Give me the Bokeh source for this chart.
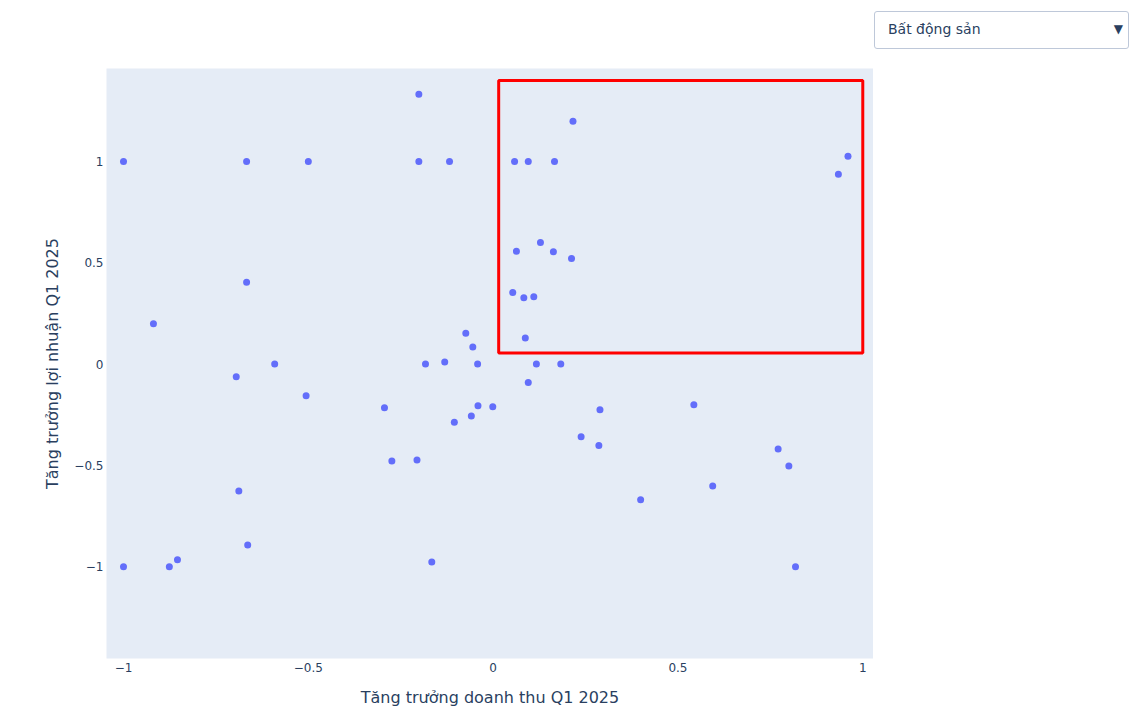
from bokeh.plotting import figure
from bokeh.models import Range1d, FixedTicker, CustomJSTickFormatter, Div
from bokeh.layouts import row
from bokeh.embed import file_html
from bokeh.resources import INLINE

# ---- data ----
revenue_growth = [
    -1.0, -0.667, -0.500, -0.201, -0.201, -0.118, 0.058, 0.095, 0.166, 0.216,
    0.960, 0.934, 0.128, 0.063, 0.163, 0.212, -0.667, 0.053, 0.083, 0.110,
    0.087, -0.919, -0.074, -0.055, -0.131, -0.183, -0.042, 0.117, 0.183, -0.591,
    -0.695, 0.095, -0.506, -0.294, -0.041, -0.001, -0.105, -0.059, 0.289, 0.543,
    0.238, 0.286, -0.274, -0.206, 0.771, 0.800, -0.688, 0.399, 0.594, -0.664,
    -1.0, -0.876, -0.854, -0.166, 0.818,
]
profit_growth = [
    1.0, 1.0, 1.0, 1.332, 1.0, 1.0, 1.0, 1.0, 1.0, 1.199,
    1.026, 0.937, 0.600, 0.557, 0.554, 0.521, 0.404, 0.353, 0.327, 0.332,
    0.129, 0.199, 0.152, 0.085, 0.011, 0.0, 0.0, 0.0, 0.0, 0.0,
    -0.063, -0.091, -0.156, -0.216, -0.205, -0.210, -0.287, -0.256, -0.225, -0.201,
    -0.358, -0.402, -0.478, -0.473, -0.419, -0.503, -0.626, -0.669, -0.601, -0.893,
    -1.0, -1.0, -0.965, -0.977, -1.0,
]
x_ticks = [-1, -0.5, 0, 0.5, 1]
y_ticks = [-1, -0.5, 0, 0.5, 1]
x_title = "Tăng trưởng doanh thu Q1 2025"
y_title = "Tăng trưởng lợi nhuận Q1 2025"
sector_options = ["Bất động sản"]
highlight_x = [0.015, 1.0]
highlight_y = [0.055, 1.4]

FONT = "DejaVu Sans"
TXT = "#2a3f5f"

p = figure(
    width=873, height=712,
    x_range=Range1d(-1.046, 1.029), y_range=Range1d(-1.453, 1.459),
    output_backend="svg", toolbar_location=None,
    min_border_left=106, min_border_right=0, min_border_top=68, min_border_bottom=54,
    background_fill_color="#E5ECF6", border_fill_color="white",
)
p.outline_line_color = None
p.grid.visible = False

fmt = CustomJSTickFormatter(code="return tick < 0 ? '\\u2212' + Math.abs(tick) : String(tick);")
for ax, ticks, title in ((p.xaxis[0], x_ticks, x_title), (p.yaxis[0], y_ticks, y_title)):
    ax.ticker = FixedTicker(ticks=ticks)
    ax.formatter = fmt
    ax.axis_line_color = None
    ax.major_tick_line_color = None
    ax.minor_tick_line_color = None
    ax.major_tick_out = 0
    ax.major_tick_in = 0
    ax.minor_tick_out = 0
    ax.minor_tick_in = 0
    ax.major_label_text_font = FONT
    ax.major_label_text_font_size = "12px"
    ax.major_label_text_color = TXT
    ax.axis_label = title
    ax.axis_label_text_font = FONT
    ax.axis_label_text_font_size = "16px"
    ax.axis_label_text_font_style = "normal"
    ax.axis_label_text_color = TXT
p.xaxis[0].major_label_standoff = 4
p.xaxis[0].axis_label_standoff = 13
p.yaxis[0].major_label_standoff = 3
p.yaxis[0].axis_label_standoff = 9

p.scatter(revenue_growth, profit_growth, size=7, color="#636EFA", line_width=0)

p.quad(left=[highlight_x[0]], right=[highlight_x[1]], bottom=[highlight_y[0]], top=[highlight_y[1]],
       fill_alpha=0, line_color="#FF0000", line_width=3)

# ---- dropdown menu (static HTML copy of the plotly dropdown) ----
menu_html = (
    '<div style="position:absolute; left:1px; top:11px; width:255px; height:38px; '
    'box-sizing:border-box; border:1px solid #BEC8D9; border-radius:3px; background:#FFFFFF; '
    f'font-family:\'{FONT}\'; color:{TXT};">'
    '<span style="position:absolute; left:13px; top:8px; font-size:14px; line-height:18px; '
    f'white-space:nowrap;">{sector_options[0]}</span>'
    '<span style="position:absolute; right:5px; top:9px; font-size:12px; line-height:16px;">&#9660;</span>'
    '</div>'
)
menu = Div(text=menu_html, width=260, height=68, margin=0,
           styles={"position": "relative", "overflow": "visible"})

layout = row(p, menu)
open("out.html", "w").write(file_html(layout, INLINE))
